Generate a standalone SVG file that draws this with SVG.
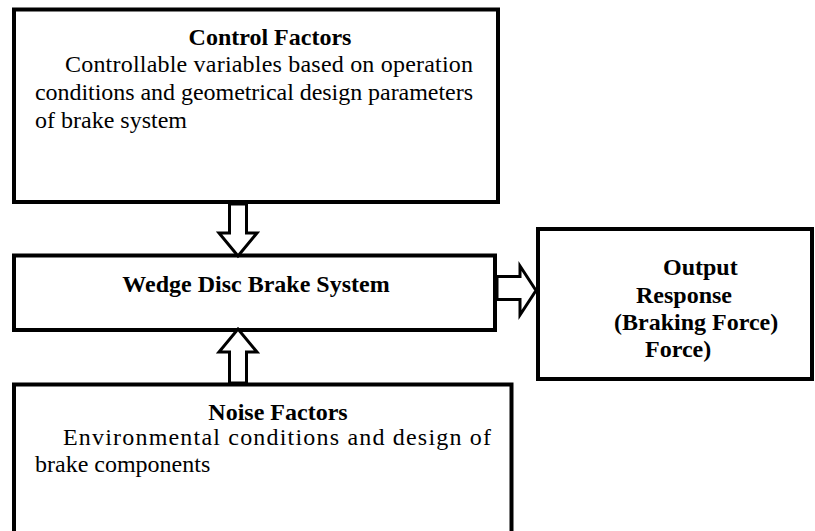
<svg xmlns="http://www.w3.org/2000/svg" width="815" height="531" viewBox="0 0 815 531">
<style>
.box{fill:#fff;stroke:#000;stroke-width:4}
.arr{fill:#fff;stroke:#000;stroke-width:3;stroke-linejoin:miter}
.b{font-family:"Liberation Serif","Times New Roman",serif;font-weight:bold;font-size:24px;fill:#000}
.r{font-family:"Liberation Serif","Times New Roman",serif;font-size:24px;fill:#000}
</style>
<rect width="815" height="531" fill="#fff"/>
<g id="control">
<rect class="box" x="14" y="9.5" width="484" height="192.5"/>
<text class="b" x="270" y="45" text-anchor="middle">Control Factors</text>
<text class="r" x="65" y="72" textLength="408" lengthAdjust="spacing">Controllable variables based on operation</text>
<text class="r" x="35" y="100" textLength="438" lengthAdjust="spacing">conditions and geometrical design parameters</text>
<text class="r" x="35" y="128">of brake system</text>
</g>
<g id="wedge">
<rect class="box" x="14" y="255.5" width="481" height="74.5"/>
<text class="b" x="256" y="292" text-anchor="middle">Wedge Disc Brake System</text>
</g>
<g id="output">
<rect class="box" x="538" y="229" width="274" height="150"/>
<text class="b" x="663" y="275">Output</text>
<text class="b" x="636" y="303">Response</text>
<text class="b" x="614" y="330">(Braking Force)</text>
<text class="b" x="645" y="357">Force)</text>
</g>
<g id="noise">
<rect class="box" x="14" y="384.5" width="497.5" height="160"/>
<text class="b" x="278" y="420" text-anchor="middle">Noise Factors</text>
<text class="r" x="63" y="445" textLength="428" lengthAdjust="spacing">Environmental conditions and design of</text>
<text class="r" x="35" y="472">brake components</text>
</g>
<g id="connectors">
<polygon class="arr" points="229.5,204 229.5,233 219,233 238,256 257,233 246.5,233 246.5,204"/>
<polygon class="arr" points="229.5,383 229.5,352 219,352 238,329 257,352 246.5,352 246.5,383"/>
<polygon class="arr" points="497,276.5 520,276.5 520,266 536,290.5 520,315 520,299.5 497,299.5"/>
</g>
</svg>
